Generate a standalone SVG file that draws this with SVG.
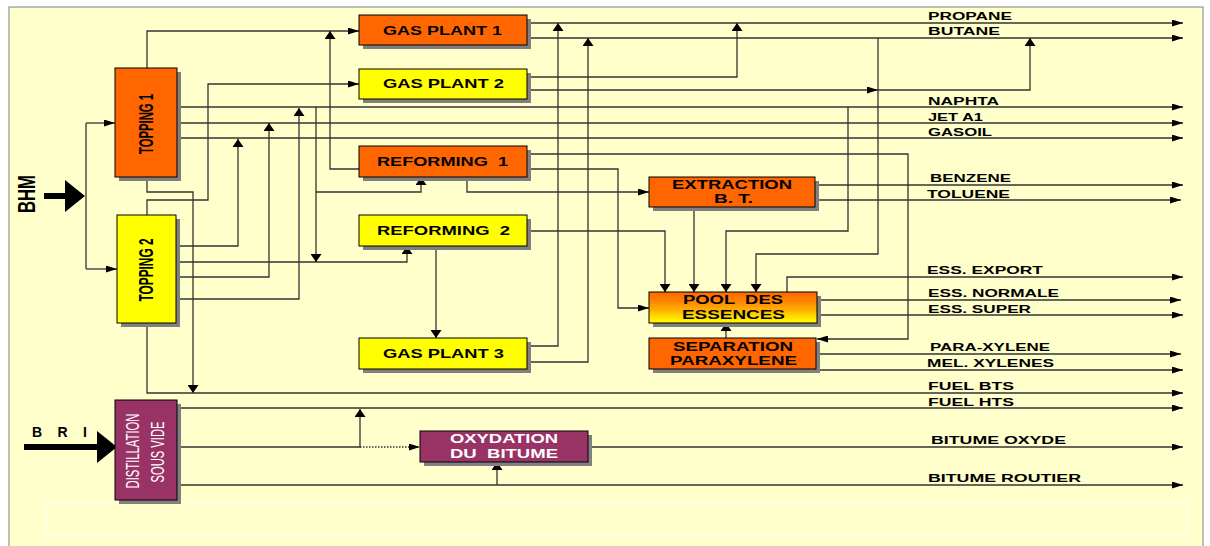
<svg xmlns="http://www.w3.org/2000/svg" width="1210" height="546" viewBox="0 0 1210 546">
<defs>
<marker id="ah" viewBox="0 0 11 7" refX="11" refY="3.5" markerWidth="11" markerHeight="7" markerUnits="userSpaceOnUse" orient="auto"><path d="M0,0 L11,3.5 L0,7 z" fill="#000"/></marker>
<marker id="av" viewBox="0 0 8 11" refX="8" refY="5.5" markerWidth="8" markerHeight="11" markerUnits="userSpaceOnUse" orient="auto"><path d="M0,0 L8,5.5 L0,11 z" fill="#000"/></marker>
<linearGradient id="pool" x1="0" y1="0" x2="0" y2="1">
<stop offset="0" stop-color="#FF6600"/>
<stop offset="0.25" stop-color="#FF7F00"/>
<stop offset="0.55" stop-color="#FFAA00"/>
<stop offset="0.8" stop-color="#FFDD00"/>
<stop offset="1" stop-color="#FFFF00"/>
</linearGradient>
</defs>
<style>
.bg{fill:#FFFFCC;stroke:#808080;stroke-width:1}
.sh{fill:#808080}
.box{stroke:#000;stroke-width:1}
.or{fill:#FF6600}
.ye{fill:#FFFF00}
.pu{fill:#993366}
.c{fill:none;stroke:#333;stroke-width:1.3}
.h{marker-end:url(#ah)}
.v{marker-end:url(#av)}
text{white-space:pre}
.lbl{font-family:"Liberation Sans",Arial,sans-serif;font-weight:bold;font-size:11px;fill:#000}
.nl{font-family:"Liberation Sans",Arial,sans-serif;font-weight:bold;font-size:12.5px;fill:#000}
.wl{font-family:"Liberation Sans",Arial,sans-serif;font-weight:bold;font-size:12.5px;fill:#fff}
.vt{font-family:"Liberation Sans",Arial,sans-serif;font-weight:bold;font-size:20px;fill:#000;text-anchor:middle}
.vw{font-family:"Liberation Sans",Arial,sans-serif;font-size:18px;fill:#fff;text-anchor:middle}
</style>
<rect x="0" y="0" width="1210" height="546" fill="#fff"/>
<rect class="bg" x="9" y="7" width="1194" height="545"/>
<rect x="46" y="502" width="1141" height="33" fill="none" stroke="#fff" stroke-width="1"/>

<g id="connectors">
<path class="c" d="M86,123 V269"/>
<path class="c h" d="M86,123 H115"/>
<path class="c h" d="M86,269 H117"/>
<path class="c h" d="M147,68 V31 H359"/>
<path class="c v" d="M147,177 V192 H193 V393"/>
<path class="c h" d="M177,107 H1183"/>
<path class="c h" d="M177,123 H1183"/>
<path class="c h" d="M177,138 H1183"/>
<path class="c h" d="M147,215 V200 H208 V84 H359"/>
<path class="c h" d="M147,323 V393 H1183"/>
<path class="c v" d="M177,246 H238 V139"/>
<path class="c v" d="M177,262 H407 V246"/>
<path class="c v" d="M177,277 H269 V123"/>
<path class="c v" d="M177,299 H299 V108"/>
<path class="c v" d="M316,107 V262"/>
<path class="c v" d="M316,192 H421 V177"/>
<path class="c h" d="M527,23 H1183"/>
<path class="c h" d="M527,38 H1183"/>
<path class="c v" d="M527,77 H737 V23"/>
<path class="c h" d="M527,90 H878"/>
<path class="c v" d="M878,90 H1030 V38"/>
<path class="c v" d="M527,346 H558 V23"/>
<path class="c v" d="M527,362 H588 V38"/>
<path class="c v" d="M359,169 H330 V31"/>
<path class="c h" d="M527,154 H908 V339 H817"/>
<path class="c h" d="M527,169 H618 V308 H649"/>
<path class="c h" d="M467,177 V192 H649"/>
<path class="c v" d="M527,231 H665 V292"/>
<path class="c v" d="M436,246 V338"/>
<path class="c v" d="M694,207 V292"/>
<path class="c v" d="M848,107 V231 H726 V292"/>
<path class="c v" d="M878,38 V254 H756 V292"/>
<path class="c v" d="M726,338 V323"/>
<path class="c h" d="M815,185 H1183"/>
<path class="c h" d="M815,200 H1181"/>
<path class="c h" d="M787,292 V277 H1183"/>
<path class="c h" d="M817,300 H1181"/>
<path class="c h" d="M817,315 H1183"/>
<path class="c h" d="M816,354 H1181"/>
<path class="c h" d="M816,370 H1183"/>
<path class="c h" d="M177,408 H1183"/>
<path class="c v" d="M177,447 H360 V409"/>
<path class="c h" d="M360,447 H420" stroke-dasharray="1.5,1.5"/>
<path class="c h" d="M588,447 H1183"/>
<path class="c h" d="M177,485 H1183"/>
<path class="c v" d="M497,485 V462"/>
</g>

<g id="bhm">
<path d="M44,193 H66 V199 H44 z M65,180 L85,196 L65,212 z" fill="#000"/>
<text class="lbl" style="font-size:24px" transform="translate(35,194) rotate(-90)" text-anchor="middle" textLength="38" lengthAdjust="spacingAndGlyphs">BHM</text>
</g>
<g id="bri">
<path d="M24,444 H98 V450 H24 z M97,431 L117,447 L97,463 z" fill="#000"/>
<text class="lbl" style="font-size:14px" x="32" y="437" textLength="55" lengthAdjust="spacing">BRI</text>
</g>

<g id="topping1">
<rect class="sh" x="119" y="72" width="62" height="109"/>
<rect class="box or" x="115" y="68" width="62" height="109"/>
<text class="vt" transform="translate(153,124) rotate(-90)" textLength="60" lengthAdjust="spacingAndGlyphs">TOPPING 1</text>
</g>
<g id="topping2">
<rect class="sh" x="121" y="219" width="59" height="108"/>
<rect class="box ye" x="117" y="215" width="59" height="108"/>
<text class="vt" transform="translate(153,270) rotate(-90)" textLength="63" lengthAdjust="spacingAndGlyphs">TOPPING 2</text>
</g>
<g id="distillation">
<rect class="sh" x="119" y="404" width="62" height="100"/>
<rect class="box pu" x="115" y="400" width="62" height="100"/>
<text class="vw" transform="translate(139,451) rotate(-90)" textLength="75" lengthAdjust="spacingAndGlyphs">DISTILLATION</text>
<text class="vw" transform="translate(164,452) rotate(-90)" textLength="61" lengthAdjust="spacingAndGlyphs">SOUS VIDE</text>
</g>

<g id="gasplant1">
<rect class="sh" x="363" y="19" width="168" height="30"/>
<rect class="box or" x="359" y="15" width="168" height="30"/>
<text class="nl" x="383" y="35" textLength="119" lengthAdjust="spacingAndGlyphs">GAS PLANT 1</text>
</g>
<g id="gasplant2">
<rect class="sh" x="363" y="73" width="168" height="30"/>
<rect class="box ye" x="359" y="69" width="168" height="30"/>
<text class="nl" x="383" y="88" textLength="121" lengthAdjust="spacingAndGlyphs">GAS PLANT 2</text>
</g>
<g id="reforming1">
<rect class="sh" x="363" y="150" width="168" height="31"/>
<rect class="box or" x="359" y="146" width="168" height="31"/>
<text class="nl" x="377" y="166" textLength="131" lengthAdjust="spacingAndGlyphs" xml:space="preserve">REFORMING  1</text>
</g>
<g id="reforming2">
<rect class="sh" x="363" y="219" width="168" height="31"/>
<rect class="box ye" x="359" y="215" width="168" height="31"/>
<text class="nl" x="377" y="235" textLength="133" lengthAdjust="spacingAndGlyphs" xml:space="preserve">REFORMING  2</text>
</g>
<g id="gasplant3">
<rect class="sh" x="363" y="342" width="168" height="31"/>
<rect class="box ye" x="359" y="338" width="168" height="31"/>
<text class="nl" x="383" y="358" textLength="121" lengthAdjust="spacingAndGlyphs">GAS PLANT 3</text>
</g>
<g id="extraction">
<rect class="sh" x="653" y="181" width="166" height="30"/>
<rect class="box or" x="649" y="177" width="166" height="30"/>
<text class="nl" x="672" y="189" textLength="120" lengthAdjust="spacingAndGlyphs">EXTRACTION</text>
<text class="nl" x="714" y="203" textLength="39" lengthAdjust="spacingAndGlyphs">B. T.</text>
</g>
<g id="pool">
<rect class="sh" x="653" y="296" width="168" height="31"/>
<rect class="box" fill="url(#pool)" x="649" y="292" width="168" height="31"/>
<text class="nl" x="683" y="304" textLength="100" lengthAdjust="spacingAndGlyphs" xml:space="preserve">POOL  DES</text>
<text class="nl" x="682" y="319" textLength="103" lengthAdjust="spacingAndGlyphs">ESSENCES</text>
</g>
<g id="separation">
<rect class="sh" x="653" y="342" width="167" height="31"/>
<rect class="box or" x="649" y="338" width="167" height="31"/>
<text class="nl" x="673" y="351" textLength="120" lengthAdjust="spacingAndGlyphs">SEPARATION</text>
<text class="nl" x="670" y="365" textLength="127" lengthAdjust="spacingAndGlyphs">PARAXYLENE</text>
</g>
<g id="oxydation">
<rect class="sh" x="424" y="435" width="168" height="31"/>
<rect class="box pu" x="420" y="431" width="168" height="31"/>
<text class="wl" x="450" y="443" textLength="108" lengthAdjust="spacingAndGlyphs">OXYDATION</text>
<text class="wl" x="450" y="458" textLength="108" lengthAdjust="spacingAndGlyphs" xml:space="preserve">DU  BITUME</text>
</g>

<g id="labels">
<text class="lbl" x="928" y="20" textLength="84" lengthAdjust="spacingAndGlyphs">PROPANE</text>
<text class="lbl" x="928" y="35" textLength="72" lengthAdjust="spacingAndGlyphs">BUTANE</text>
<text class="lbl" x="928" y="105" textLength="71" lengthAdjust="spacingAndGlyphs">NAPHTA</text>
<text class="lbl" x="928" y="121" textLength="55" lengthAdjust="spacingAndGlyphs">JET A1</text>
<text class="lbl" x="928" y="136" textLength="64" lengthAdjust="spacingAndGlyphs">GASOIL</text>
<text class="lbl" x="930" y="182" textLength="81" lengthAdjust="spacingAndGlyphs">BENZENE</text>
<text class="lbl" x="927" y="198" textLength="83" lengthAdjust="spacingAndGlyphs">TOLUENE</text>
<text class="lbl" x="927" y="274" textLength="116" lengthAdjust="spacingAndGlyphs">ESS. EXPORT</text>
<text class="lbl" x="928" y="297" textLength="131" lengthAdjust="spacingAndGlyphs">ESS. NORMALE</text>
<text class="lbl" x="928" y="313" textLength="103" lengthAdjust="spacingAndGlyphs">ESS. SUPER</text>
<text class="lbl" x="930" y="351" textLength="120" lengthAdjust="spacingAndGlyphs">PARA-XYLENE</text>
<text class="lbl" x="927" y="367" textLength="127" lengthAdjust="spacingAndGlyphs">MEL. XYLENES</text>
<text class="lbl" x="928" y="390" textLength="86" lengthAdjust="spacingAndGlyphs">FUEL BTS</text>
<text class="lbl" x="928" y="406" textLength="86" lengthAdjust="spacingAndGlyphs">FUEL HTS</text>
<text class="lbl" x="931" y="444" textLength="135" lengthAdjust="spacingAndGlyphs">BITUME OXYDE</text>
<text class="lbl" x="928" y="482" textLength="153" lengthAdjust="spacingAndGlyphs">BITUME ROUTIER</text>
</g>
</svg>
